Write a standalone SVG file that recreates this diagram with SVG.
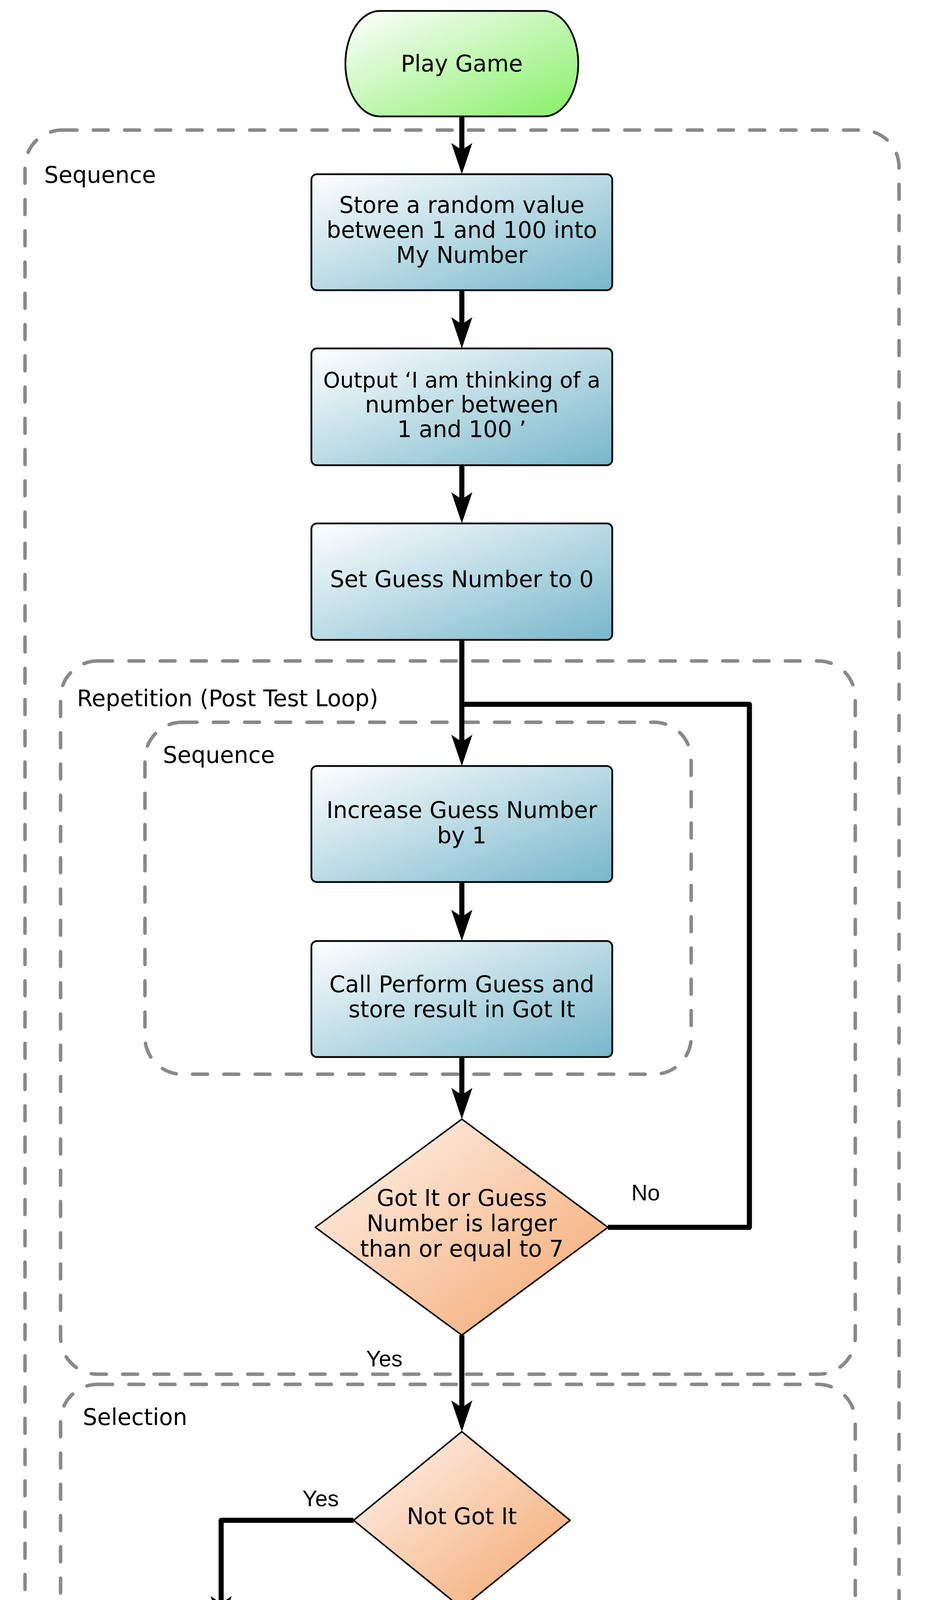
<svg xmlns="http://www.w3.org/2000/svg" width="2370" height="5108" viewBox="0 0 2370 5108">
<defs>
<linearGradient id="gBlue" x1="0" y1="0" x2="1" y2="1">
<stop offset="0" stop-color="#FFFFFF"/>
<stop offset="1" stop-color="#76B7CA"/>
</linearGradient>
<linearGradient id="gOrange" x1="0" y1="0" x2="1" y2="1">
<stop offset="0" stop-color="#FFF6F0"/>
<stop offset="1" stop-color="#F3A56B"/>
</linearGradient>
<linearGradient id="gGreen" x1="0" y1="0" x2="1" y2="1">
<stop offset="0" stop-color="#FFFFFF"/>
<stop offset="1" stop-color="#86F066"/>
</linearGradient>
<marker id="arr" markerUnits="userSpaceOnUse" viewBox="-32 -30 84 60" refX="0" refY="0" markerWidth="84" markerHeight="60" orient="auto" overflow="visible">
<path d="M50,0 L-30,-27 L-12,0 L-30,27 Z" fill="#000000"/>
</marker>
<style>
.cont{fill:none;stroke:#898989;stroke-width:9;stroke-dasharray:38 42;stroke-linecap:round}
.box{fill:url(#gBlue);stroke:#000000;stroke-width:4.5}
.dia{fill:url(#gOrange);stroke:#000000;stroke-width:4;stroke-linejoin:round}
.term{fill:url(#gGreen);stroke:#000000;stroke-width:4.5}
.t{font-family:"DejaVu Sans","Liberation Sans",sans-serif;font-size:58px;fill:#000000;text-anchor:middle}
.lbl{font-family:"DejaVu Sans","Liberation Sans",sans-serif;font-size:58px;fill:#000000}
.edge{font-family:"Liberation Sans",Arial,sans-serif;font-size:57px;fill:#000000}
.con{fill:none;stroke:#000000;stroke-width:13;stroke-linejoin:round}
</style>
</defs>
<rect width="2370" height="5108" fill="#FFFFFF"/>

<g id="containers">
<g id="seq-outer">
<rect class="cont" x="64" y="333" width="2237" height="4340" rx="95" ry="95"/>
<text class="lbl" x="113" y="468">Sequence</text>
</g>
<g id="repetition">
<rect class="cont" x="155" y="1692" width="2034" height="1826" rx="95" ry="95"/>
<text class="lbl" x="197" y="1808">Repetition (Post Test Loop)</text>
</g>
<g id="seq-inner">
<rect class="cont" x="371" y="1849" width="1398" height="901" rx="95" ry="95"/>
<text class="lbl" x="417" y="1953">Sequence</text>
</g>
<g id="selection">
<rect class="cont" x="155" y="3544" width="2034" height="1102" rx="95" ry="95"/>
<text class="lbl" x="212" y="3648">Selection</text>
</g>
</g>

<g id="connectors">
<path class="con" d="M1182,298 V396" marker-end="url(#arr)"/>
<path class="con" d="M1182,743 V842" marker-end="url(#arr)"/>
<path class="con" d="M1182,1191 V1290" marker-end="url(#arr)"/>
<path class="con" d="M1182,1638 V1911" marker-end="url(#arr)"/>
<path class="con" d="M1182,2258 V2359" marker-end="url(#arr)"/>
<path class="con" d="M1182,2706 V2815" marker-end="url(#arr)"/>
<path class="con" d="M1556,3142 H1918 V1803 H1182"/>
<path class="con" d="M1182,3418 V3615" marker-end="url(#arr)"/>
<path class="con" d="M905,3892 H566 V4116" marker-end="url(#arr)"/>
<path class="con" d="M566,4462 V4621 H1182"/>
<path class="con" d="M1182,4117 V4728" marker-end="url(#arr)"/>
<text class="edge" x="1616" y="3073">No</text>
<text class="edge" x="937" y="3498">Yes</text>
<text class="edge" x="774" y="3856">Yes</text>
<text class="edge" x="1262" y="4176">No</text>
</g>

<g id="play-game">
<path class="term" d="M972,28 H1392 A88,135 0 0 1 1392,298 H972 A88,135 0 0 1 972,28 Z"/>
<text class="t" x="1182" y="183">Play Game</text>
</g>

<g id="store-random">
<rect class="box" x="797" y="446" width="770" height="297" rx="14" ry="14"/>
<text class="t" x="1182" y="545">Store a random value</text>
<text class="t" x="1182" y="609">between 1 and 100 into</text>
<text class="t" x="1182" y="673">My Number</text>
</g>

<g id="output-thinking">
<rect class="box" x="797" y="892" width="770" height="299" rx="14" ry="14"/>
<text class="t" x="1182" y="992" style="font-size:55px">Output ‘I am thinking of a</text>
<text class="t" x="1182" y="1056">number between</text>
<text class="t" x="1182" y="1119">1 and 100 ’</text>
</g>

<g id="set-guess">
<rect class="box" x="797" y="1340" width="770" height="298" rx="14" ry="14"/>
<text class="t" x="1182" y="1503">Set Guess Number to 0</text>
</g>

<g id="increase-guess">
<rect class="box" x="797" y="1961" width="770" height="297" rx="14" ry="14"/>
<text class="t" x="1182" y="2094">Increase Guess Number</text>
<text class="t" x="1182" y="2159">by 1</text>
</g>

<g id="call-perform">
<rect class="box" x="797" y="2409" width="770" height="297" rx="14" ry="14"/>
<text class="t" x="1182" y="2540">Call Perform Guess and</text>
<text class="t" x="1182" y="2604">store result in Got It</text>
</g>

<g id="decision-loop">
<path class="dia" d="M1182,2865 L1556,3142 L1182,3418 L807,3142 Z"/>
<text class="t" x="1182" y="3087">Got It or Guess</text>
<text class="t" x="1182" y="3152">Number is larger</text>
<text class="t" x="1182" y="3217">than or equal to 7</text>
</g>

<g id="decision-notgot">
<path class="dia" d="M1182,3665 L1459,3892 L1182,4117 L905,3892 Z"/>
<text class="t" x="1182" y="3902">Not Got It</text>
</g>

<g id="output-ranout">
<rect class="box" x="180" y="4166" width="771" height="296" rx="14" ry="14"/>
<text class="t" x="566" y="4264">Output “You ran out of</text>
<text class="t" x="566" y="4329">guesses, the number</text>
<text class="t" x="566" y="4394">was ’, and My Number</text>
</g>

<g id="end">
<path class="term" d="M972,4778 H1392 A88,135 0 0 1 1392,5048 H972 A88,135 0 0 1 972,4778 Z"/>
<text class="t" x="1182" y="4930">End</text>
</g>
</svg>
